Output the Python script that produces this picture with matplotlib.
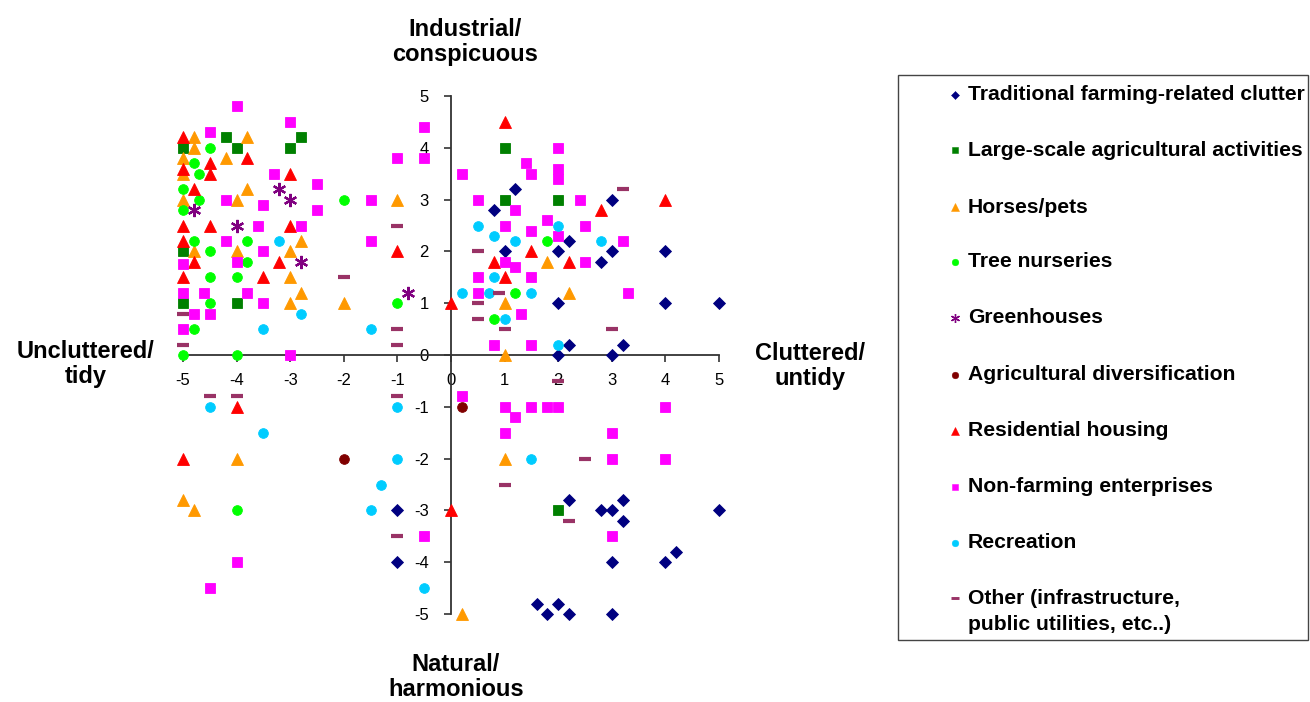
import matplotlib
matplotlib.use("Agg")
import matplotlib.pyplot as plt
from matplotlib.lines import Line2D
from matplotlib.patches import Rectangle

# ---- data -------------------------------------------------------------
trad_x = [1.2, 0.8, 3, 2.2, 1, 2, 3, 4, 2.8, 2, 4, 5, 2.2, 3.2, 2, 3, -1, -1,
          2.2, 3.2, 2.8, 3, 5, 3.2, 3, 4, 4.2, 1.6, 2, 1.8, 2.2, 3]
trad_y = [3.2, 2.8, 3, 2.2, 2, 2, 2, 2, 1.8, 1, 1, 1, 0.2, 0.2, 0, 0, -3, -4,
          -2.8, -2.8, -3, -3, -3, -3.2, -4, -4, -3.8, -4.8, -4.8, -5, -5, -5]

large_x = [-4.2, -2.8, -5, -4, -3, -5, -5, -4, 1, 1, 2, 2]
large_y = [4.2, 4.2, 4, 4, 4, 2, 1, 1, 4, 3, 3, -3]

horse_x = [-4.8, -3.8, -4.8, -5, -4.2, -5, -3.8, -5, -4, -1, -2.8, -4.8, -4, -3,
           -3, -2.8, -3, -2, 1.8, 2.2, 1, 1, 1, -4, -5, -4.8, 0.2]
horse_y = [4.2, 4.2, 4.0, 3.8, 3.8, 3.5, 3.2, 3.0, 3, 3, 2.2, 2.0, 2, 2,
           1.5, 1.2, 1, 1, 1.8, 1.2, 1, 0, -2, -2, -2.8, -3, -5]

tree_x = [-4.5, -4.8, -4.7, -5, -4.7, -5, -4.8, -3.8, -4.5, -3.8, -4.5, -4,
          -4.5, -4.8, -5, -4, -2, -1, 1.8, 1.2, 0.8, -4]
tree_y = [4, 3.7, 3.5, 3.2, 3.0, 2.8, 2.2, 2.2, 2.0, 1.8, 1.5, 1.5,
          1.0, 0.5, 0, 0, 3, 1, 2.2, 1.2, 0.7, -3]

green_x = [-3.2, -3, -4.8, -4, -2.8, -0.8]
green_y = [3.2, 3, 2.8, 2.5, 1.8, 1.2]

diver_x = [-2, 0.2]
diver_y = [-2, -1]

resid_x = [-5, -5, -4.5, -3.8, -4.5, -3, -4.8, -5, -4.5, -3, -5, -4.8, -3.2, -5,
           -3.5, -1, 0, 1, 4, 2.8, 1.5, 0.8, 2.2, 1, -4, -5, 0]
resid_y = [4.2, 3.6, 3.7, 3.8, 3.5, 3.5, 3.2, 2.5, 2.5, 2.5, 2.2, 1.8, 1.8, 1.5,
           1.5, 2, 1, 4.5, 3, 2.8, 2.0, 1.8, 1.8, 1.5, -1, -2, -3]

nonfarm_x = [-4, -3, -4.5, -3.3, -2.5, -4.2, -3.5, -2.5, -3.6, -2.8, -4.2, -3.5,
             -5, -4, -5, -4.6, -3.8, -3.5, -4.8, -4.5, -5, -3, -0.5, -1, -0.5,
             -1.5, -1.5, 0.2, 2, 1.4, 1.5, 2, 2, 0.5, 2.4, 1.2, 1.8, 1, 2.5,
             1.5, 2, 3.2, 1, 2.5, 1.2, 0.5, 1.5, 0.5, 3.3, 1.3, 0.8, 1.5, 0.2,
             1, 1.2, 1.5, 1.8, 2, 4, 1, 3, 3, 4, 3, -0.5, -4, -4.5]
nonfarm_y = [4.8, 4.5, 4.3, 3.5, 3.3, 3.0, 2.9, 2.8, 2.5, 2.5, 2.2, 2.0,
             1.75, 1.8, 1.2, 1.2, 1.2, 1.0, 0.8, 0.8, 0.5, 0, 4.4, 3.8, 3.8,
             3.0, 2.2, 3.5, 4, 3.7, 3.5, 3.6, 3.4, 3.0, 3.0, 2.8, 2.6, 2.5, 2.5,
             2.4, 2.3, 2.2, 1.8, 1.8, 1.7, 1.5, 1.5, 1.2, 1.2, 0.8, 0.2, 0.2, -0.8,
             -1, -1.2, -1, -1, -1, -1, -1.5, -1.5, -2, -2, -3.5, -3.5, -4, -4.5]

recr_x = [-3.2, -2.8, -3.5, -1.5, 0.2, 0.5, 2, 0.8, 1.2, 2.8, 0.8, 0.7, 1.5,
          1.0, 2, -4.5, -1, -3.5, -1, -1.3, -1.5, -0.5, 1.5]
recr_y = [2.2, 0.8, 0.5, 0.5, 1.2, 2.5, 2.5, 2.3, 2.2, 2.2, 1.5, 1.2, 1.2,
          0.7, 0.2, -1, -1, -1.5, -2, -2.5, -3, -4.5, -2]

other_x = [-5, -5, -1, -2, -1, -1, 0.5, 0.9, 0.5, 0.5, 1.0, 3.2, 3, -4.5, -4,
           -1, 2, 2.5, 1, 2.2, -1]
other_y = [0.8, 0.2, 2.5, 1.5, 0.5, 0.2, 2.0, 1.2, 1.0, 0.7, 0.5, 3.2, 0.5,
           -0.8, -0.8, -0.8, -0.5, -2, -2.5, -3.2, -3.5]

series_labels = [
    "Traditional farming-related clutter",
    "Large-scale agricultural activities",
    "Horses/pets",
    "Tree nurseries",
    "Greenhouses",
    "Agricultural diversification",
    "Residential housing",
    "Non-farming enterprises",
    "Recreation",
    "Other (infrastructure,\npublic utilities, etc..)",
]
tick_values = [-5, -4, -3, -2, -1, 0, 1, 2, 3, 4, 5]

# ---- styling ----------------------------------------------------------
series = [
    (trad_x, trad_y, dict(marker="D", color="#000080", ms=6.2)),
    (large_x, large_y, dict(marker="s", color="#008000", ms=7.0)),
    (horse_x, horse_y, dict(marker="^", color="#FF9900", ms=8.5)),
    (tree_x, tree_y, dict(marker="o", color="#00FF00", ms=7.0)),
    (green_x, green_y, dict(marker=(6, 2, 0), color="#800080", ms=9.5, mew=1.6)),
    (diver_x, diver_y, dict(marker="o", color="#800000", ms=7.0)),
    (resid_x, resid_y, dict(marker="^", color="#FF0000", ms=8.5)),
    (nonfarm_x, nonfarm_y, dict(marker="s", color="#FF00FF", ms=7.0)),
    (recr_x, recr_y, dict(marker="o", color="#00CCFF", ms=7.0)),
    (other_x, other_y, dict(marker="_", color="#993366", ms=9.0, mew=3.0)),
]

W, H = 1310, 702
fig = plt.figure(figsize=(W / 100, H / 100), dpi=100)
fig.patch.set_facecolor("white")

ax_left, ax_right, ax_top, ax_bot = 183, 719, 96, 614
ax = fig.add_axes([ax_left / W, 1 - ax_bot / H,
                   (ax_right - ax_left) / W, (ax_bot - ax_top) / H])
ax.set_xlim(-5, 5)
ax.set_ylim(-5, 5)

for xs, ys, st in series:
    ax.plot(xs, ys, linestyle="none", marker=st["marker"], color=st["color"],
            markersize=st["ms"], markeredgewidth=st.get("mew", 0.6),
            markeredgecolor=st["color"], clip_on=False, zorder=3)

# axes crossing at the origin
axis_col = "#333333"
for side in ("top", "right"):
    ax.spines[side].set_visible(False)
ax.spines["left"].set_position(("data", 0))
ax.spines["bottom"].set_position(("data", 0))
for side in ("left", "bottom"):
    ax.spines[side].set_color(axis_col)
    ax.spines[side].set_linewidth(1.3)
    ax.spines[side].set_zorder(2)

tick_font = dict(family=["Liberation Sans", "DejaVu Sans"], size=12)
ax.set_xticks(tick_values)
ax.set_yticks(tick_values)
ax.set_xticklabels([str(v) for v in tick_values], fontdict=tick_font)
ax.set_yticklabels([str(v) for v in tick_values], fontdict=tick_font)
ax.tick_params(axis="both", direction="out", length=5, width=1.2,
               color=axis_col, labelcolor="black")
ax.tick_params(axis="x", pad=8)
ax.tick_params(axis="y", pad=11)
ax.set_facecolor("none")

# axis titles
title_font = dict(family=["Liberation Sans Narrow", "Liberation Sans"],
                  weight="bold", size=17, color="black",
                  ha="center", va="center", multialignment="center")
fig.text(465 / W, 1 - 42 / H, "Industrial/\nconspicuous", linespacing=1.15, **title_font)
fig.text(86 / W, 1 - 364 / H, "Uncluttered/\ntidy", linespacing=1.15, **title_font)
fig.text(810 / W, 1 - 366 / H, "Cluttered/\nuntidy", linespacing=1.15, **title_font)
fig.text(456 / W, 1 - 677 / H, "Natural/\nharmonious", linespacing=1.15, **title_font)

# legend box
fig.add_artist(Rectangle((898 / W, 1 - 640 / H), (1308 - 898) / W, (640 - 75) / H,
                         transform=fig.transFigure, facecolor="white",
                         edgecolor="#444444", linewidth=1.0))
row_y = [95, 150, 207, 262, 318, 375, 431, 487, 543, 598]
leg_font = dict(family=["Liberation Sans", "DejaVu Sans"], weight="bold",
                size=15.2, color="black")
for (xs, ys, st), lab, yy in zip(series, series_labels, row_y):
    scale = 0.68
    fig.add_artist(Line2D([955 / W], [1 - yy / H], transform=fig.transFigure,
                          linestyle="none", marker=st["marker"], color=st["color"],
                          markersize=st["ms"] * scale,
                          markeredgewidth=st.get("mew", 0.6) * (0.7 if st["marker"] == "_" else 0.6),
                          markeredgecolor=st["color"]))
    fig.text(968 / W, 1 - yy / H, lab.split("\n")[0], va="center", ha="left", **leg_font)
    if "\n" in lab:
        fig.text(968 / W, 1 - (yy + 27) / H, lab.split("\n")[1], va="center",
                 ha="left", **leg_font)

fig.savefig("out.png", dpi=100, facecolor="white")
